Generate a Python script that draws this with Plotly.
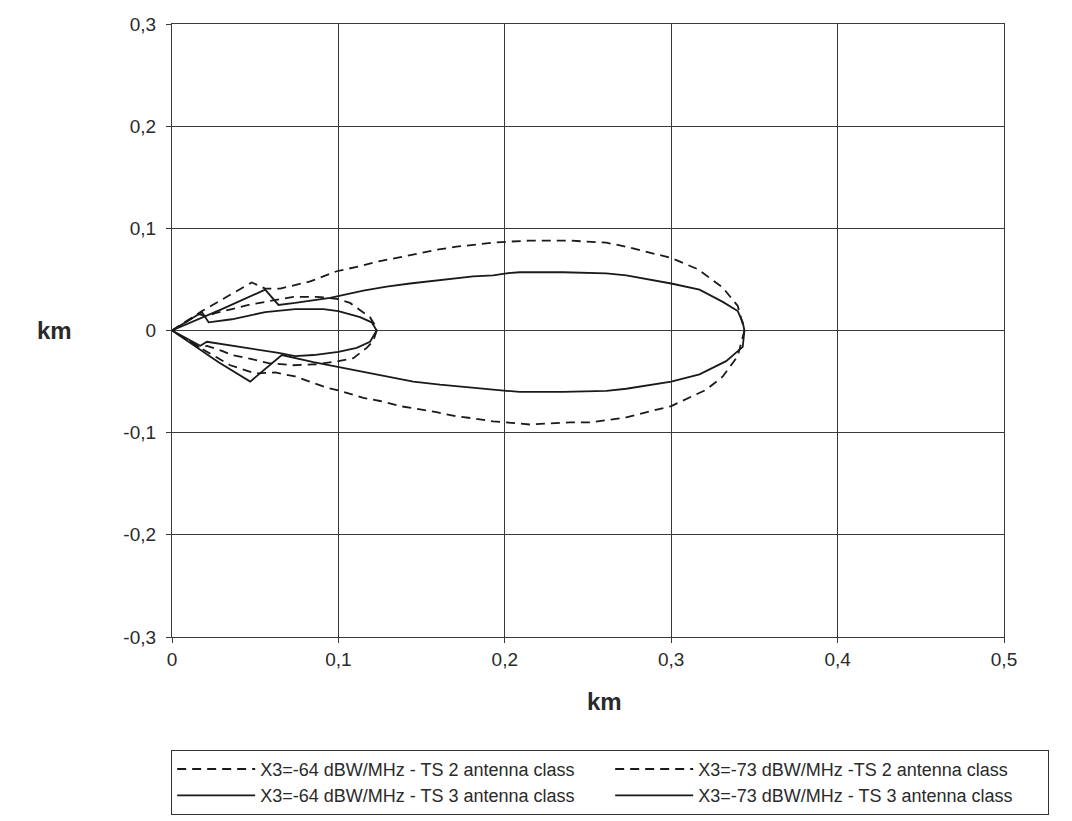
import plotly.graph_objects as go

# ---- data (km) ----
# X3=-64 dBW/MHz - TS 2 antenna class (dashed, large lobe)
ts2_64_x = [0, 0.018, 0.035, 0.048, 0.056, 0.065, 0.083, 0.099, 0.113, 0.125, 0.135, 0.147, 0.159,
            0.171, 0.181, 0.193, 0.203, 0.215, 0.227, 0.239, 0.249, 0.261, 0.273, 0.300, 0.316,
            0.331, 0.340, 0.344,
            0.340, 0.331, 0.321, 0.300, 0.273, 0.261, 0.251, 0.239, 0.227, 0.215, 0.201, 0.193,
            0.181, 0.171, 0.159, 0.147, 0.137, 0.125, 0.115, 0.101, 0.093, 0.074, 0.062, 0.050,
            0.035, 0.018, 0]
ts2_64_y = [0, 0.019, 0.035, 0.047, 0.041, 0.041, 0.048, 0.058, 0.063, 0.068, 0.071, 0.075, 0.079,
            0.082, 0.084, 0.086, 0.087, 0.088, 0.088, 0.088, 0.087, 0.086, 0.082, 0.071, 0.060,
            0.042, 0.024, 0.0,
            -0.025, -0.045, -0.058, -0.074, -0.085, -0.088, -0.090, -0.090, -0.091, -0.092, -0.090, -0.089,
            -0.086, -0.084, -0.080, -0.077, -0.074, -0.069, -0.066, -0.059, -0.056, -0.045, -0.041, -0.042,
            -0.034, -0.018, 0]

# X3=-73 dBW/MHz - TS 2 antenna class (dashed, small lobe)
ts2_73_x = [0, 0.016, 0.021, 0.026, 0.036, 0.046, 0.056, 0.073, 0.087, 0.099, 0.107, 0.113, 0.119,
            0.122, 0.123,
            0.121, 0.117, 0.109, 0.100, 0.087, 0.073, 0.058, 0.048, 0.036, 0.030, 0.021, 0.016, 0]
ts2_73_y = [0, 0.016, 0.014, 0.017, 0.021, 0.025, 0.028, 0.033, 0.033, 0.031, 0.027, 0.020, 0.013,
            0.005, 0.0,
            -0.010, -0.017, -0.027, -0.030, -0.033, -0.034, -0.032, -0.028, -0.024, -0.020, -0.015, -0.016, 0]

# X3=-64 dBW/MHz - TS 3 antenna class (solid, large lobe)
ts3_64_x = [0, 0.030, 0.056, 0.064, 0.074, 0.095, 0.115, 0.129, 0.143, 0.155, 0.169, 0.181, 0.193,
            0.201, 0.209, 0.235, 0.261, 0.273, 0.300, 0.317, 0.331, 0.340, 0.343, 0.344,
            0.343, 0.333, 0.317, 0.300, 0.273, 0.261, 0.235, 0.209, 0.201, 0.187, 0.175, 0.161,
            0.145, 0.129, 0.115, 0.101, 0.085, 0.066, 0.047, 0.028, 0]
ts3_64_y = [0, 0.021, 0.040, 0.025, 0.027, 0.032, 0.039, 0.043, 0.046, 0.048, 0.051, 0.053, 0.054,
            0.056, 0.057, 0.057, 0.056, 0.054, 0.046, 0.040, 0.028, 0.019, 0.008, 0.0,
            -0.016, -0.030, -0.043, -0.050, -0.057, -0.059, -0.060, -0.060, -0.059, -0.057, -0.055, -0.053,
            -0.050, -0.045, -0.041, -0.036, -0.031, -0.024, -0.050, -0.031, 0]

# X3=-73 dBW/MHz - TS 3 antenna class (solid, small lobe)
ts3_73_x = [0, 0.018, 0.022, 0.036, 0.056, 0.074, 0.091, 0.100, 0.113, 0.120, 0.123,
            0.121, 0.119, 0.111, 0.100, 0.085, 0.074, 0.064, 0.038, 0.021, 0.017, 0]
ts3_73_y = [0, 0.018, 0.008, 0.011, 0.018, 0.021, 0.021, 0.019, 0.013, 0.008, 0.0,
            -0.005, -0.011, -0.017, -0.021, -0.024, -0.025, -0.022, -0.015, -0.011, -0.015, 0]

series_names = ["X3=-64 dBW/MHz - TS 2 antenna class",
                "X3=-73 dBW/MHz -TS 2 antenna class",
                "X3=-64 dBW/MHz - TS 3 antenna class",
                "X3=-73 dBW/MHz - TS 3 antenna class"]

x_tick_vals = [0, 0.1, 0.2, 0.3, 0.4, 0.5]
x_tick_text = ["0", "0,1", "0,2", "0,3", "0,4", "0,5"]
y_tick_vals = [-0.3, -0.2, -0.1, 0, 0.1, 0.2, 0.3]
y_tick_text = ["-0,3", "-0,2", "-0,1", "0", "0,1", "0,2", "0,3"]

LINE = "#1a1a1a"
GRID = "#3a3a3a"
FONT = "Liberation Sans, Arial, sans-serif"

fig = go.Figure()
series = [(ts2_64_x, ts2_64_y, "9px,6px"),
          (ts2_73_x, ts2_73_y, "9px,6px"),
          (ts3_64_x, ts3_64_y, "solid"),
          (ts3_73_x, ts3_73_y, "solid")]
for (xs, ys, dash), name in zip(series, series_names):
    fig.add_trace(go.Scatter(x=xs, y=ys, mode="lines", name=name,
                             line=dict(color=LINE, width=1.8, dash=dash)))

fig.update_layout(
    width=1072, height=821,
    margin=dict(l=164, r=76, t=16, b=192, autoexpand=False),
    paper_bgcolor="white", plot_bgcolor="white",
    font=dict(family=FONT, size=19, color="#2a2a2a"),
    showlegend=True,
    legend=dict(orientation="h", x=-0.001, xanchor="left", y=-0.184, yanchor="top",
                bordercolor="#333", borderwidth=1, bgcolor="white",
                font=dict(size=18, color="#2a2a2a", family=FONT),
                entrywidth=345, entrywidthmode="pixels", traceorder="normal",
                itemwidth=78),
    annotations=[
        dict(text="<b>km</b>", xref="paper", yref="y", x=-0.141, y=0,
             xanchor="center", yanchor="middle",
             showarrow=False, font=dict(size=24, family=FONT, color="#2a2a2a")),
        dict(text="<b>km</b>", xref="paper", yref="paper", x=0.52, y=-0.106,
             xanchor="center", yanchor="middle",
             showarrow=False, font=dict(size=24, family=FONT, color="#2a2a2a")),
    ],
)
fig.update_xaxes(range=[0, 0.5], tickvals=x_tick_vals, ticktext=x_tick_text,
                 showgrid=True, gridcolor=GRID, gridwidth=1.2,
                 showline=True, linecolor=GRID, linewidth=1.2, mirror=True,
                 ticks="outside", ticklen=5, tickcolor=GRID,
                 zeroline=False)
fig.update_yaxes(range=[-0.3, 0.3], tickvals=y_tick_vals, ticktext=y_tick_text,
                 showgrid=True, gridcolor=GRID, gridwidth=1.2,
                 showline=True, linecolor=GRID, linewidth=1.2, mirror=True,
                 ticks="outside", ticklen=5, tickcolor=GRID, ticklabelstandoff=6,
                 zeroline=False)

fig.write_html("out.html")
